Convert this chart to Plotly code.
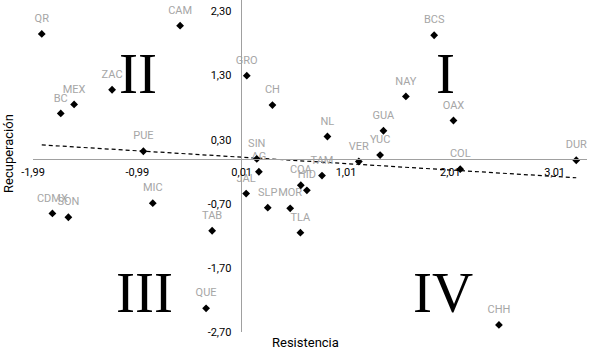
import numpy as np
import plotly.graph_objects as go

# ---- data ----
states = ["QR", "CAM", "GRO", "CH", "ZAC", "MEX", "BC", "PUE", "SIN", "AG",
          "JAL", "SLP", "MOR", "COA", "HID", "TAM", "TLA", "TAB", "QUE", "MIC",
          "CDMX", "SON", "NL", "GUA", "NAY", "BCS", "OAX", "VER", "YUC", "COL",
          "DUR", "CHH"]
resistencia = [-1.906, -0.58, 0.059, 0.305, -1.232, -1.596, -1.724, -0.932, 0.155, 0.175,
               0.053, 0.26, 0.475, 0.577, 0.635, 0.78, 0.573, -0.273, -0.331, -0.842,
               -1.804, -1.651, 0.832, 1.369, 1.584, 1.855, 2.04, 1.133, 1.337, 2.105,
               3.217, 2.476]
recuperacion = [1.95, 2.08, 1.30, 0.84, 1.08, 0.85, 0.71, 0.12, 0.0, -0.20,
                -0.54, -0.76, -0.77, -0.41, -0.49, -0.26, -1.15, -1.12, -2.33, -0.69,
                -0.85, -0.91, 0.35, 0.44, 0.975, 1.93, 0.60, -0.04, 0.06, -0.16,
                -0.02, -2.59]
x_ticks = [-1.99, -0.99, 0.01, 1.01, 2.01, 3.01]
x_tick_labels = ["-1,99", "-0,99", "0,01", "1,01", "2,01", "3,01"]
y_ticks = [2.30, 1.30, 0.30, -0.70, -1.70, -2.70]
y_tick_labels = ["2,30", "1,30", "0,30", "-0,70", "-1,70", "-2,70"]
quadrants = ["I", "II", "III", "IV"]

# ---- layout constants ----
X_RANGE = [-1.99, 3.32]
Y_RANGE = [-2.70, 2.48]
FONT = "Roboto"

xs = np.array(resistencia)
ys = np.array(recuperacion)
slope, intercept = np.polyfit(xs, ys, 1)
trend_x = np.array([xs.min(), xs.max()])
trend_y = slope * trend_x + intercept

fig = go.Figure()
fig.add_trace(go.Scatter(
    x=trend_x, y=trend_y, mode="lines",
    line=dict(color="black", width=1.2, dash="4px,3px"),
    hoverinfo="skip", showlegend=False))
# labels (offset via an invisible, larger marker)
fig.add_trace(go.Scatter(
    x=resistencia, y=recuperacion, mode="markers+text",
    text=states, textposition="top center",
    textfont=dict(family=FONT, size=11, color="#a6a6a6"),
    marker=dict(symbol="diamond", size=13, color="rgba(0,0,0,0)"),
    hoverinfo="skip", showlegend=False))
fig.add_trace(go.Scatter(
    x=resistencia, y=recuperacion, mode="markers",
    marker=dict(symbol="diamond", size=6, color="black"),
    text=states, showlegend=False))

xpos = (0 - Y_RANGE[0]) / (Y_RANGE[1] - Y_RANGE[0])
ypos = (0 - X_RANGE[0]) / (X_RANGE[1] - X_RANGE[0])

fig.update_layout(
    width=589, height=353,
    margin=dict(l=33, r=2, t=0, b=21),
    paper_bgcolor="white", plot_bgcolor="white",
    font=dict(family=FONT, size=11, color="black"),
    xaxis=dict(range=X_RANGE, anchor="free", position=xpos,
               showgrid=False, zeroline=False, showline=True,
               linecolor="#a0a0a0", linewidth=1, ticks="",
               ticklabelstandoff=3,
               tickvals=x_ticks, ticktext=x_tick_labels,
               tickfont=dict(family=FONT, size=11, color="black")),
    yaxis=dict(range=Y_RANGE, anchor="free", position=ypos,
               showgrid=False, zeroline=False, showline=True,
               linecolor="#a0a0a0", linewidth=1, ticks="",
               ticklabelstandoff=7,
               tickvals=y_ticks, ticktext=y_tick_labels,
               tickfont=dict(family=FONT, size=11, color="black")),
)

quad_pos = {"I": (0.7437, 0.78), "II": (0.1895, 0.78),
            "III": (0.202, 0.1175), "IV": (0.740, 0.1175)}
for q in quadrants:
    px_, py_ = quad_pos[q]
    fig.add_annotation(x=px_, y=py_, xref="paper", yref="paper", text=q,
                       showarrow=False, xanchor="center", yanchor="middle",
                       font=dict(family="Liberation Serif", size=57, color="black"))

fig.add_annotation(x=(305 - 33) / 554, y=(332 - 342) / 332, xref="paper", yref="paper",
                   text="Resistencia", showarrow=False,
                   xanchor="center", yanchor="middle",
                   font=dict(family=FONT, size=13, color="black"))
fig.add_annotation(x=(8.5 - 33) / 554, y=(332 - 153.5) / 332, xref="paper", yref="paper",
                   text="Recuperación", textangle=-90, showarrow=False,
                   xanchor="center", yanchor="middle",
                   font=dict(family=FONT, size=13, color="black"))

fig.write_html("out.html")
